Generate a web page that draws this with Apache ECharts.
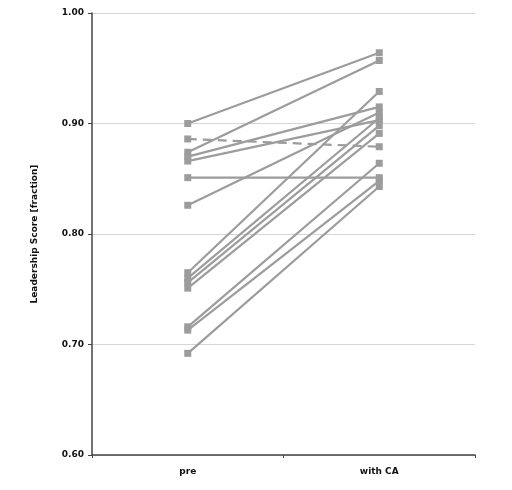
<!DOCTYPE html>
<html>
<head>
<meta charset="utf-8">
<script src="https://cdn.jsdelivr.net/npm/echarts@6/dist/echarts.min.js"></script>
<style>
  html, body { margin: 0; padding: 0; background: #fff; }
  #chart { width: 512px; height: 490px; }
</style>
</head>
<body>
<div id="chart"></div>
<script>
// categories on the x axis
var categories = ['pre', 'with CA'];
// one entry per subject, same order in both arrays
var preScores = [0.900, 0.886, 0.874, 0.870, 0.866, 0.851, 0.826, 0.765, 0.760, 0.756, 0.751, 0.716, 0.713, 0.692];
var caScores  = [0.964, 0.879, 0.957, 0.915, 0.903, 0.851, 0.910, 0.929, 0.905, 0.898, 0.891, 0.864, 0.848, 0.843];
// subjects drawn with a dashed line
var dashedIdx = [1];
var yTicks = [0.60, 0.70, 0.80, 0.90, 1.00];

var lineColor = '#9c9c9c';
var series = [];
for (var i = 0; i < preScores.length; i++) {
    series.push({
        name: 'subject' + (i + 1),
        type: 'line',
        data: [preScores[i], caScores[i]],
        symbol: 'rect',
        symbolSize: 7,
        itemStyle: { color: lineColor },
        lineStyle: {
            color: lineColor,
            width: 2.2,
            type: dashedIdx.indexOf(i) >= 0 ? [9, 6] : 'solid'
        },
        emphasis: { disabled: true },
        animation: false
    });
}

var chart = echarts.init(document.getElementById('chart'));
chart.setOption({
    backgroundColor: '#fff',
    textStyle: { fontFamily: 'DejaVu Sans' },
    grid: { left: 92, right: 37, top: 13, bottom: 35 },
    xAxis: {
        type: 'category',
        data: categories,
        boundaryGap: true,
        axisLine: { lineStyle: { color: '#444', width: 1.5 } },
        axisTick: { show: true, length: 3, lineStyle: { color: '#444' } },
        axisLabel: { color: '#111', fontSize: 9, fontWeight: 'bold', margin: 12 }
    },
    yAxis: {
        type: 'value',
        min: yTicks[0],
        max: yTicks[yTicks.length - 1],
        interval: 0.1,
        name: 'Leadership Score [fraction]',
        nameLocation: 'middle',
        nameGap: 53,
        nameTextStyle: { color: '#111', fontSize: 9, fontWeight: 'bold' },
        axisLine: { show: true, lineStyle: { color: '#444', width: 1.5 } },
        axisTick: { show: true, length: 4, lineStyle: { color: '#444' } },
        axisLabel: {
            color: '#111', fontSize: 9, fontWeight: 'bold', margin: 8,
            formatter: function (v) { return v.toFixed(2); }
        },
        splitLine: { show: true, lineStyle: { color: '#d6d6d6', width: 1 } }
    },
    series: series
});
</script>
</body>
</html>
